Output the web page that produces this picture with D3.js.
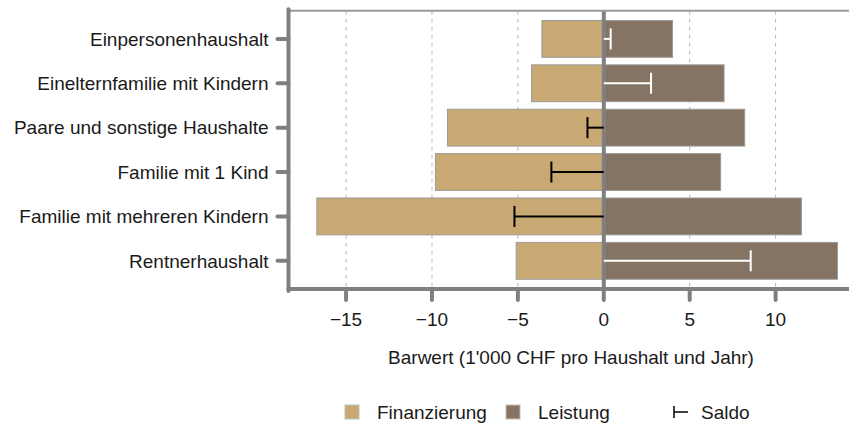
<!DOCTYPE html>
<html lang="de">
<head>
<meta charset="UTF-8">
<title>Barwert nach Haushaltstyp</title>
<style>
    body {
        margin: 0;
        background: white;
    }

    svg {
        display: block;
    }

    text {
        font-family: "Liberation Sans", Arial, Helvetica, sans-serif;
        font-size: 19px;
        fill: #1a1a1a;
    }
</style>
</head>
<body>
<svg class="chart"></svg>
<script src="https://cdnjs.cloudflare.com/ajax/libs/d3/7.8.5/d3.min.js"></script>
<script>

const categories = [
    "Einpersonenhaushalt",
    "Einelternfamilie mit Kindern",
    "Paare und sonstige Haushalte",
    "Familie mit 1 Kind",
    "Familie mit mehreren Kindern",
    "Rentnerhaushalt"
];

const finanzierung = [-3.6, -4.2, -9.1, -9.8, -16.7, -5.1];
const leistung = [4.0, 7.0, 8.2, 6.8, 11.5, 13.6];
const saldo = [0.4, 2.75, -0.95, -3.05, -5.2, 8.55];

const xTicks = [-15, -10, -5, 0, 5, 10];

const width = 849,
    height = 425;

const colors = {
    finanzierung: "#c8a873",
    leistung: "#857463",
    axis: "#808080"
};

const panel = { left: 288.5, right: 849.5, top: 10.7, bottom: 289 };

const svg = d3.select("svg")
    .attr("width", width)
    .attr("height", height);

const x = d3.scaleLinear()
    .domain([-18.35, 14.3])
    .range([panel.left, panel.right]);

const y = d3.scaleBand()
    .domain(categories)
    .range([panel.top, panel.bottom])
    .paddingInner(0.17)
    .paddingOuter(0.22);

const rows = categories.map((name, i) => ({
    name,
    fin: finanzierung[i],
    leist: leistung[i],
    saldo: saldo[i]
}));

// gridlines
svg.append("g")
    .selectAll("line")
    .data(xTicks.filter(d => d !== 0))
    .join("line")
    .attr("x1", d => x(d))
    .attr("x2", d => x(d))
    .attr("y1", panel.top)
    .attr("y2", panel.bottom)
    .attr("stroke", "#b8b8b8")
    .attr("stroke-width", 1)
    .attr("stroke-dasharray", "4,4");

// bars
const bars = svg.append("g");

bars.selectAll(".fin")
    .data(rows)
    .join("rect")
    .attr("class", "fin")
    .attr("x", d => x(d.fin))
    .attr("width", d => x(0) - x(d.fin))
    .attr("y", d => y(d.name))
    .attr("height", y.bandwidth())
    .attr("fill", colors.finanzierung)
    .attr("stroke", "#9a9a9a")
    .attr("stroke-width", 1);

bars.selectAll(".leist")
    .data(rows)
    .join("rect")
    .attr("class", "leist")
    .attr("x", x(0))
    .attr("width", d => x(d.leist) - x(0))
    .attr("y", d => y(d.name))
    .attr("height", y.bandwidth())
    .attr("fill", colors.leistung)
    .attr("stroke", "#9a9a9a")
    .attr("stroke-width", 1);

// zero line
svg.append("line")
    .attr("x1", x(0))
    .attr("x2", x(0))
    .attr("y1", panel.top)
    .attr("y2", panel.bottom)
    .attr("stroke", colors.axis)
    .attr("stroke-width", 4);

// saldo error bars
const saldoG = svg.append("g")
    .selectAll("g")
    .data(rows)
    .join("g")
    .attr("stroke", d => d.saldo >= 0 ? "white" : "black")
    .attr("stroke-width", 2);

saldoG.append("line")
    .attr("x1", x(0))
    .attr("x2", d => x(d.saldo))
    .attr("y1", d => y(d.name) + y.bandwidth() / 2)
    .attr("y2", d => y(d.name) + y.bandwidth() / 2);

saldoG.append("line")
    .attr("x1", d => x(d.saldo))
    .attr("x2", d => x(d.saldo))
    .attr("y1", d => y(d.name) + y.bandwidth() / 2 - 10.5)
    .attr("y2", d => y(d.name) + y.bandwidth() / 2 + 10.5);

// panel top border
svg.append("line")
    .attr("x1", panel.left)
    .attr("x2", width)
    .attr("y1", panel.top)
    .attr("y2", panel.top)
    .attr("stroke", "#9a9a9a")
    .attr("stroke-width", 2);

// axes
const yAxis = svg.append("g");

yAxis.selectAll("line")
    .data(categories)
    .join("line")
    .attr("x1", panel.left - 11)
    .attr("x2", panel.left)
    .attr("y1", d => y(d) + y.bandwidth() / 2)
    .attr("y2", d => y(d) + y.bandwidth() / 2)
    .attr("stroke", colors.axis)
    .attr("stroke-width", 4)
    .attr("stroke-linecap", "round");

yAxis.selectAll("text")
    .data(categories)
    .join("text")
    .attr("x", panel.left - 20)
    .attr("y", d => y(d) + y.bandwidth() / 2)
    .attr("dy", "0.36em")
    .attr("text-anchor", "end")
    .text(d => d);

const xAxis = svg.append("g");

xAxis.selectAll("line")
    .data(xTicks)
    .join("line")
    .attr("x1", d => x(d))
    .attr("x2", d => x(d))
    .attr("y1", panel.bottom)
    .attr("y2", panel.bottom + 11)
    .attr("stroke", colors.axis)
    .attr("stroke-width", 4)
    .attr("stroke-linecap", "round");

xAxis.selectAll("text")
    .data(xTicks)
    .join("text")
    .attr("x", d => x(d))
    .attr("y", 326)
    .attr("text-anchor", "middle")
    .text(d => d3.format("d")(d));

svg.append("line")
    .attr("x1", panel.left)
    .attr("x2", panel.left)
    .attr("y1", panel.top - 1.4)
    .attr("y2", panel.bottom + 2)
    .attr("stroke", colors.axis)
    .attr("stroke-width", 4)
    .attr("stroke-linecap", "round");

svg.append("line")
    .attr("x1", panel.left)
    .attr("x2", width)
    .attr("y1", panel.bottom)
    .attr("y2", panel.bottom)
    .attr("stroke", colors.axis)
    .attr("stroke-width", 4)
    .attr("stroke-linecap", "round");

svg.append("text")
    .attr("x", 571)
    .attr("y", 364)
    .attr("text-anchor", "middle")
    .text("Barwert (1'000 CHF pro Haushalt und Jahr)");

// legend
const legend = svg.append("g");

const swatches = [
    { label: "Finanzierung", color: colors.finanzierung, x: 345 },
    { label: "Leistung", color: colors.leistung, x: 506 }
];

legend.selectAll("rect")
    .data(swatches)
    .join("rect")
    .attr("x", d => d.x)
    .attr("y", 405)
    .attr("width", 14)
    .attr("height", 14)
    .attr("fill", d => d.color)
    .attr("stroke", "#bdbdbd")
    .attr("stroke-width", 1);

legend.selectAll("text.sw")
    .data(swatches)
    .join("text")
    .attr("class", "sw")
    .attr("x", d => d.x + 32)
    .attr("y", 412)
    .attr("dy", "0.36em")
    .text(d => d.label);

legend.append("line")
    .attr("x1", 674)
    .attr("x2", 674)
    .attr("y1", 406)
    .attr("y2", 418)
    .attr("stroke", "black")
    .attr("stroke-width", 1.5);

legend.append("line")
    .attr("x1", 674)
    .attr("x2", 688)
    .attr("y1", 412)
    .attr("y2", 412)
    .attr("stroke", "black")
    .attr("stroke-width", 1.5);

legend.append("text")
    .attr("x", 701)
    .attr("y", 412)
    .attr("dy", "0.36em")
    .text("Saldo");

</script>
</body>
</html>
